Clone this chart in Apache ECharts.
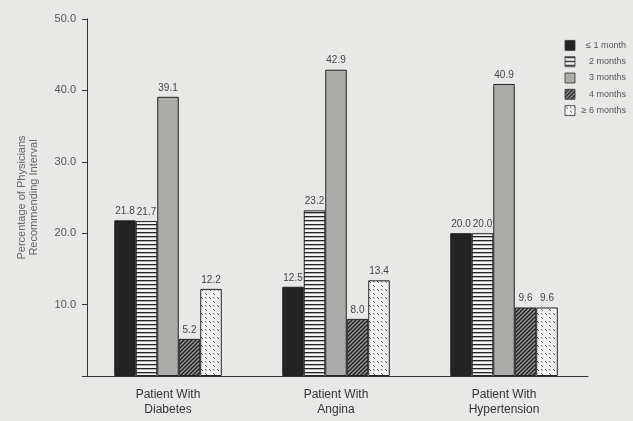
<!DOCTYPE html>
<html><head><meta charset="utf-8">
<script src="https://cdn.jsdelivr.net/npm/echarts@6/dist/echarts.min.js"></script>
<style>html,body{margin:0;padding:0;background:#e8e8e6}#c{width:633px;height:421px}</style>
</head><body><div id="c"></div>
<script>
const categories = ['Patient With\nDiabetes', 'Patient With\nAngina', 'Patient With\nHypertension'];
const seriesNames = ['\u2264 1 month', '2 months', '3 months', '4 months', '\u2265 6 months'];
const le1month = [21.8, 12.5, 20.0];
const months2 = [21.7, 23.2, 20.0];
const months3 = [39.1, 42.9, 40.9];
const months4 = [5.2, 8.0, 9.6];
const ge6months = [12.2, 13.4, 9.6];
const yTicks = [0, 10, 20, 30, 40, 50];

function makePattern(kind) {
  const c = document.createElement('canvas');
  const ctx = c.getContext('2d');
  if (kind === 'h') {
    c.width = 8; c.height = 4;
    ctx.fillStyle = '#f2f2f0'; ctx.fillRect(0,0,8,4);
    ctx.fillStyle = '#222'; ctx.fillRect(0,0,8,1.3);
  } else if (kind === 'd') {
    c.width = 4; c.height = 4;
    ctx.fillStyle = '#9a9a98'; ctx.fillRect(0,0,4,4);
    ctx.strokeStyle = '#1a1a1a'; ctx.lineWidth = 1.3;
    ctx.beginPath();
    ctx.moveTo(-1,5); ctx.lineTo(5,-1);
    ctx.moveTo(-1,1); ctx.lineTo(1,-1);
    ctx.moveTo(3,5); ctx.lineTo(5,3);
    ctx.stroke();
  } else {
    c.width = 8; c.height = 8;
    ctx.fillStyle = '#f2f2f0'; ctx.fillRect(0,0,8,8);
    ctx.strokeStyle = '#555'; ctx.lineWidth = 1;
    ctx.beginPath();
    ctx.moveTo(1,1); ctx.lineTo(3,3);
    ctx.moveTo(5,5); ctx.lineTo(7,7);
    ctx.moveTo(5,1); ctx.lineTo(6.5,2.5);
    ctx.stroke();
  }
  return {image: c, repeat: 'repeat'};
}

const styles = [
  {color: '#232323'},
  {color: makePattern('h')},
  {color: '#acacaa'},
  {color: makePattern('d')},
  {color: makePattern('s')}
];
const dataSets = [le1month, months2, months3, months4, ge6months];

const chart = echarts.init(document.getElementById('c'));
chart.setOption({
  backgroundColor: '#e8e8e6',
  animation: false,
  grid: {left: 84, right: 45, top: 19, bottom: 45},
  legend: {
    orient: 'vertical', right: 2, top: 35,
    itemWidth: 10, itemHeight: 10, itemGap: 5.5,
    icon: 'rect',
    itemStyle: {borderWidth: 0.8, borderColor: '#333'},
    formatter: n => '{a|' + n + '}',
    textStyle: {fontSize: 9, color: '#555', fontFamily: 'Liberation Sans, Arial', lineHeight: 10,
      rich: {a: {width: 46, align: 'right', fontSize: 9, color: '#555', lineHeight: 10}}},
    data: seriesNames
  },
  xAxis: {
    type: 'category', data: categories,
    axisLine: {lineStyle: {color: '#333', width: 1}},
    axisTick: {show: false},
    axisLabel: {fontSize: 12, color: '#333', lineHeight: 15, margin: 11, fontFamily: 'Liberation Sans, Arial'}
  },
  yAxis: {
    type: 'value', min: yTicks[0], max: yTicks[yTicks.length-1], interval: 10,
    offset: -3,
    name: 'Percentage of Physicians\nRecommending Interval',
    nameLocation: 'middle', nameGap: 47, nameRotate: 90,
    nameTextStyle: {fontSize: 11, color: '#666', lineHeight: 12, fontFamily: 'Liberation Sans, Arial'},
    splitLine: {show: false},
    axisLine: {show: true, lineStyle: {color: '#333'}},
    axisTick: {show: true, length: 5, lineStyle: {color: '#333'}},
    axisLabel: {fontSize: 11, color: '#555', margin: 11, fontFamily: 'Liberation Sans, Arial',
      formatter: v => v === 0 ? '' : v.toFixed(1)}
  },
  series: seriesNames.map((n, i) => ({
    name: n, type: 'bar', data: dataSets[i],
    barWidth: 21.5, barGap: '0%',
    itemStyle: Object.assign({borderColor: '#222', borderWidth: 1}, styles[i]),
    label: {show: true, position: 'top', distance: 4, fontSize: 10, color: '#444',
      fontFamily: 'Liberation Sans, Arial', formatter: p => p.value.toFixed(1)}
  }))
});
</script></body></html>
